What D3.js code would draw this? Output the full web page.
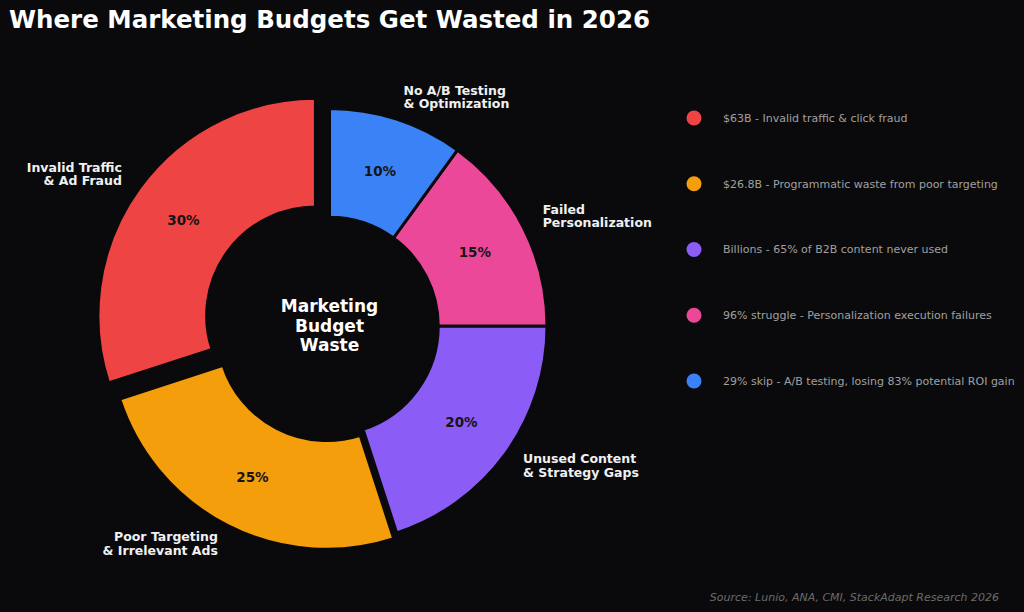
<!DOCTYPE html>
<html>
<head>
<meta charset="utf-8">
<script src="https://cdn.jsdelivr.net/npm/d3@7"></script>
<style>
  html, body { margin: 0; padding: 0; background: #0a0a0c; }
  svg { display: block; font-family: "DejaVu Sans", sans-serif; }
</style>
</head>
<body>
<div id="chart"></div>
<script>
// Slice data (counter-clockwise from 12 o'clock, like the original)
const categories = [
  'Invalid Traffic\n& Ad Fraud',
  'Poor Targeting\n& Irrelevant Ads',
  'Unused Content\n& Strategy Gaps',
  'Failed\nPersonalization',
  'No A/B Testing\n& Optimization'
]
const shares = [30, 25, 20, 15, 10]
const legendNotes = [
  '$63B - Invalid traffic & click fraud',
  '$26.8B - Programmatic waste from poor targeting',
  'Billions - 65% of B2B content never used',
  '96% struggle - Personalization execution failures',
  '29% skip - A/B testing, losing 83% potential ROI gain'
]
const colors = ['#ef4444', '#f59e0b', '#8b5cf6', '#ec4899', '#3b82f6']
const explode = [0.08, 0.03, 0, 0, 0]

const width = 1024, height = 612
const bg = '#0a0a0c'
const cx = 329.5, cy = 326, R = 217.5, rIn = R * 0.5

let svg = d3.select('#chart').append('svg')
  .attr('width', width)
  .attr('height', height)

svg.append('rect')
  .attr('width', width)
  .attr('height', height)
  .attr('fill', bg)

// Title
svg.append('text')
  .attr('x', 9)
  .attr('y', 28)
  .attr('fill', '#ffffff')
  .style('font-size', '24.5px')
  .style('font-weight', 'bold')
  .text('Where Marketing Budgets Get Wasted in 2026')

let rows = categories.map((c, i) => ({ label: c, value: shares[i], color: colors[i], explode: explode[i] }))

// negative end angle -> counter-clockwise like matplotlib
let pie = d3.pie().sort(null).value(d => d.value).startAngle(0).endAngle(-2 * Math.PI)
let arc = d3.arc().innerRadius(rIn).outerRadius(R)
let arcs = pie(rows)

let g = svg.append('g').attr('transform', `translate(${cx},${cy})`)

// helper for multi-line text centred vertically
function multiline(sel, text, lineH, shift) {
  let lines = text.split('\n')
  lines.forEach((ln, k) => {
    sel.append('tspan')
      .attr('x', sel.attr('x'))
      .attr('dy', k === 0 ? (-(lines.length - 1) / 2 * lineH + shift * parseFloat(sel.style('font-size'))) : lineH)
      .text(ln)
  })
}

arcs.forEach(a => {
  let mid = (a.startAngle + a.endAngle) / 2
  let ox = Math.sin(mid) * a.data.explode * R
  let oy = -Math.cos(mid) * a.data.explode * R
  let slice = g.append('g').attr('transform', `translate(${ox},${oy})`)

  slice.append('path')
    .attr('d', arc(a))
    .attr('fill', a.data.color)
    .attr('stroke', bg)
    .attr('stroke-width', 3)
    .attr('stroke-linejoin', 'miter')

  // percentage inside the ring
  let pr = R * 0.75
  slice.append('text')
    .attr('x', Math.sin(mid) * pr)
    .attr('y', -Math.cos(mid) * pr)
    .attr('dy', '0.36em')
    .attr('text-anchor', 'middle')
    .attr('fill', '#151515')
    .style('font-size', '13.5px')
    .style('font-weight', 'bold')
    .text(a.data.value + '%')

  // outer category label
  let lr = R * 1.1
  let lx = Math.sin(mid) * lr
  let t = slice.append('text')
    .attr('x', lx)
    .attr('y', -Math.cos(mid) * lr)
    .attr('text-anchor', lx > 0 ? 'start' : 'end')
    .attr('fill', '#f0f0f0')
    .style('font-size', '12.5px')
    .style('font-weight', 'bold')
  multiline(t, a.data.label, 13.5, 0.26)
})

// centre text
let ct = g.append('text')
  .attr('x', 0)
  .attr('y', 0)
  .attr('text-anchor', 'middle')
  .attr('fill', '#ffffff')
  .style('font-size', '17px')
  .style('font-weight', 'bold')
multiline(ct, 'Marketing\nBudget\nWaste', 19.5, 0.33)

// legend
let legendY = d3.scalePoint().domain(d3.range(rows.length)).range([118, 381])
let legend = svg.append('g')
rows.forEach((d, i) => {
  legend.append('circle')
    .attr('cx', 694)
    .attr('cy', legendY(i))
    .attr('r', 7.5)
    .attr('fill', d.color)
  legend.append('text')
    .attr('x', 723)
    .attr('y', legendY(i))
    .attr('dy', '0.36em')
    .attr('fill', '#a0a0a0')
    .style('font-size', '11px')
    .text(legendNotes[i])
})

// source
svg.append('text')
  .attr('x', 999)
  .attr('y', 601)
  .attr('text-anchor', 'end')
  .attr('fill', '#6b6b6b')
  .style('font-size', '11px')
  .style('font-style', 'italic')
  .text('Source: Lunio, ANA, CMI, StackAdapt Research 2026')
</script>
</body>
</html>
